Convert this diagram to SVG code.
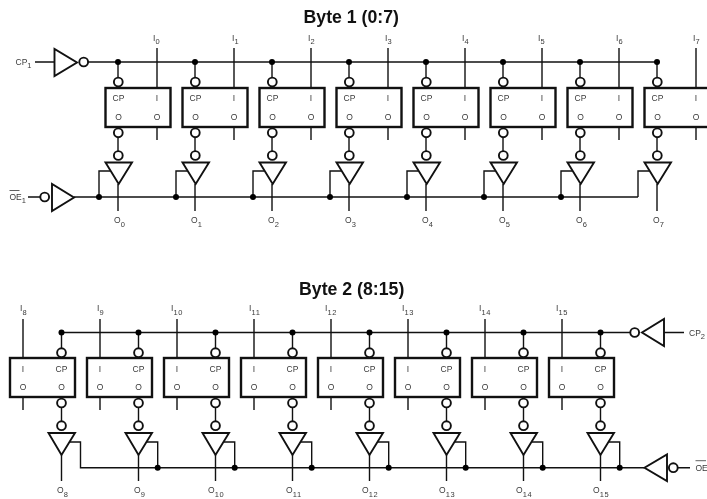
<svg xmlns="http://www.w3.org/2000/svg" width="707" height="499" viewBox="0 0 707 499">
<style>
text{filter:grayscale(1)}
.t{font-family:"Liberation Sans",Arial,sans-serif;font-size:8.5px;fill:#3a3a3a}
.m{text-anchor:middle}
.s{font-size:7.5px;letter-spacing:.8px}
.h{font-family:"Liberation Sans",Arial,sans-serif;font-size:17.7px;font-weight:bold;fill:#111;text-anchor:middle}
.w{fill:none;stroke:#111;stroke-width:1.4}
.b{fill:none;stroke:#111;stroke-width:1.7}
.d{fill:#000}
.box{fill:#fff;stroke:#111;stroke-width:2.4}
.tri{fill:#fff;stroke:#111;stroke-width:1.9;stroke-linejoin:miter}
.bub{fill:#fff;stroke:#111;stroke-width:1.9}
</style>
<defs>
<g id="topCell">
<rect class="box" x="105.5" y="88" width="65" height="39"/>
<circle class="bub" cx="118.3" cy="82" r="4.4"/>
<circle class="bub" cx="118.3" cy="132.8" r="4.4"/>
<circle class="bub" cx="118.3" cy="155.5" r="4.4"/>
<path class="tri" d="M105.5 162.5H132L118.7 184Z"/>
</g>
<g id="botCell">
<rect class="box" x="10" y="358" width="65" height="39"/>
<circle class="bub" cx="61.5" cy="352.7" r="4.4"/>
<circle class="bub" cx="61.5" cy="403" r="4.4"/>
<circle class="bub" cx="61.5" cy="425.7" r="4.4"/>
<path class="tri" d="M48.5 433H75L61.5 455Z"/>
</g>
</defs>
<g id="connectors">
<path class="b" d="M88 62H657"/>
<path class="w" d="M35 62H54M28 197H40"/>
<path class="b" d="M74 197H638"/>
<path class="w" d="M638 197V171H649"/>
<path class="w" d="M118 62V77.5M118 137.5V151M118 184V211M157 48V88M157 127V140M99 197V171H110"/>
<path class="w" d="M195 62V77.5M195 137.5V151M195 184V211M234 48V88M234 127V140M176 197V171H187"/>
<path class="w" d="M272 62V77.5M272 137.5V151M272 184V211M311 48V88M311 127V140M253 197V171H264"/>
<path class="w" d="M349 62V77.5M349 137.5V151M349 184V211M388 48V88M388 127V140M330 197V171H341"/>
<path class="w" d="M426 62V77.5M426 137.5V151M426 184V211M465 48V88M465 127V140M407 197V171H418"/>
<path class="w" d="M503 62V77.5M503 137.5V151M503 184V211M542 48V88M542 127V140M484 197V171H495"/>
<path class="w" d="M580 62V77.5M580 137.5V151M580 184V211M619 48V88M619 127V140M561 197V171H572"/>
<path class="w" d="M657 62V77.5M657 137.5V151M657 184V211M696 48V88M696 127V140"/>
<circle class="d" cx="118" cy="62" r="3"/><circle class="d" cx="195" cy="62" r="3"/><circle class="d" cx="272" cy="62" r="3"/><circle class="d" cx="349" cy="62" r="3"/><circle class="d" cx="426" cy="62" r="3"/><circle class="d" cx="503" cy="62" r="3"/><circle class="d" cx="580" cy="62" r="3"/><circle class="d" cx="657" cy="62" r="3"/>
<circle class="d" cx="99" cy="197" r="3"/><circle class="d" cx="176" cy="197" r="3"/><circle class="d" cx="253" cy="197" r="3"/><circle class="d" cx="330" cy="197" r="3"/><circle class="d" cx="407" cy="197" r="3"/><circle class="d" cx="484" cy="197" r="3"/><circle class="d" cx="561" cy="197" r="3"/>
<path class="b" d="M61.5 332.5H630"/>
<path class="w" d="M664 332.5H684M678 467.7H690"/>
<path class="w" d="M68 442H80.5V467.7H644"/>
<path class="w" d="M61.5 332.5V348M61.5 408V421M61.5 455V481M23 319V358M23 397V410"/>
<path class="w" d="M138.5 332.5V348M138.5 408V421M138.5 455V481M100 319V358M100 397V410M145 442H157.7V467.7"/>
<path class="w" d="M215.5 332.5V348M215.5 408V421M215.5 455V481M177 319V358M177 397V410M222 442H234.7V467.7"/>
<path class="w" d="M292.5 332.5V348M292.5 408V421M292.5 455V481M254 319V358M254 397V410M299 442H311.7V467.7"/>
<path class="w" d="M369.5 332.5V348M369.5 408V421M369.5 455V481M331 319V358M331 397V410M376 442H388.7V467.7"/>
<path class="w" d="M446.5 332.5V348M446.5 408V421M446.5 455V481M408 319V358M408 397V410M453 442H465.7V467.7"/>
<path class="w" d="M523.5 332.5V348M523.5 408V421M523.5 455V481M485 319V358M485 397V410M530 442H542.7V467.7"/>
<path class="w" d="M600.5 332.5V348M600.5 408V421M600.5 455V481M562 319V358M562 397V410M607 442H619.7V467.7"/>
<circle class="d" cx="61.5" cy="332.5" r="3"/><circle class="d" cx="138.5" cy="332.5" r="3"/><circle class="d" cx="215.5" cy="332.5" r="3"/><circle class="d" cx="292.5" cy="332.5" r="3"/><circle class="d" cx="369.5" cy="332.5" r="3"/><circle class="d" cx="446.5" cy="332.5" r="3"/><circle class="d" cx="523.5" cy="332.5" r="3"/><circle class="d" cx="600.5" cy="332.5" r="3"/>
<circle class="d" cx="157.7" cy="467.7" r="3"/><circle class="d" cx="234.7" cy="467.7" r="3"/><circle class="d" cx="311.7" cy="467.7" r="3"/><circle class="d" cx="388.7" cy="467.7" r="3"/><circle class="d" cx="465.7" cy="467.7" r="3"/><circle class="d" cx="542.7" cy="467.7" r="3"/><circle class="d" cx="619.7" cy="467.7" r="3"/>
</g>
<g id="title1"><text class="h" x="351.2" y="23.3">Byte 1 (0:7)</text></g>
<g id="title2"><text class="h" x="351.7" y="295">Byte 2 (8:15)</text></g>
<g id="cp1-driver">
<path class="tri" d="M54.5 49V76L77 62.5Z"/>
<circle class="bub" cx="83.7" cy="62" r="4.4"/>
<text class="t" x="15.5" y="65">CP<tspan class="s" dy="3">1</tspan></text>
</g>
<g id="oe1-driver">
<circle class="bub" cx="44.7" cy="197" r="4.4"/>
<path class="tri" d="M52 184V211L74 197.5Z"/>
<line x1="9.5" y1="190.5" x2="19.5" y2="190.5" stroke="#3a3a3a" stroke-width="0.8"/>
<text class="t" x="9.5" y="200">OE<tspan class="s" dy="3">1</tspan></text>
</g>
<g id="cp2-driver">
<circle class="bub" cx="634.7" cy="332.5" r="4.4"/>
<path class="tri" d="M664 319V346L642 332.5Z"/>
<text class="t" x="689" y="336">CP<tspan class="s" dy="3">2</tspan></text>
</g>
<g id="oe2-driver">
<path class="tri" d="M667 454.5V481L644.5 467.7Z"/>
<circle class="bub" cx="673.3" cy="467.7" r="4.4"/>
<line x1="695.5" y1="460.7" x2="706" y2="460.7" stroke="#3a3a3a" stroke-width="0.8"/>
<text class="t" x="695.5" y="470.5">OE</text>
</g>
<g id="bit0"><use href="#topCell"/><text class="t m" x="118.5" y="101">CP</text><text class="t m" x="157" y="101">I</text><text class="t m" x="118.5" y="120">O</text><text class="t m" x="157" y="120">O</text><text class="t" x="153" y="41">I<tspan class="s" dy="3">0</tspan></text><text class="t" x="114" y="223">O<tspan class="s" dy="3.5">0</tspan></text></g>
<g id="bit1"><use href="#topCell" x="77"/><text class="t m" x="195.5" y="101">CP</text><text class="t m" x="234" y="101">I</text><text class="t m" x="195.5" y="120">O</text><text class="t m" x="234" y="120">O</text><text class="t" x="232" y="41">I<tspan class="s" dy="3">1</tspan></text><text class="t" x="191" y="223">O<tspan class="s" dy="3.5">1</tspan></text></g>
<g id="bit2"><use href="#topCell" x="154"/><text class="t m" x="272.5" y="101">CP</text><text class="t m" x="311" y="101">I</text><text class="t m" x="272.5" y="120">O</text><text class="t m" x="311" y="120">O</text><text class="t" x="308" y="41">I<tspan class="s" dy="3">2</tspan></text><text class="t" x="268" y="223">O<tspan class="s" dy="3.5">2</tspan></text></g>
<g id="bit3"><use href="#topCell" x="231"/><text class="t m" x="349.5" y="101">CP</text><text class="t m" x="388" y="101">I</text><text class="t m" x="349.5" y="120">O</text><text class="t m" x="388" y="120">O</text><text class="t" x="385" y="41">I<tspan class="s" dy="3">3</tspan></text><text class="t" x="345" y="223">O<tspan class="s" dy="3.5">3</tspan></text></g>
<g id="bit4"><use href="#topCell" x="308"/><text class="t m" x="426.5" y="101">CP</text><text class="t m" x="465" y="101">I</text><text class="t m" x="426.5" y="120">O</text><text class="t m" x="465" y="120">O</text><text class="t" x="462" y="41">I<tspan class="s" dy="3">4</tspan></text><text class="t" x="422" y="223">O<tspan class="s" dy="3.5">4</tspan></text></g>
<g id="bit5"><use href="#topCell" x="385"/><text class="t m" x="503.5" y="101">CP</text><text class="t m" x="542" y="101">I</text><text class="t m" x="503.5" y="120">O</text><text class="t m" x="542" y="120">O</text><text class="t" x="538" y="41">I<tspan class="s" dy="3">5</tspan></text><text class="t" x="499" y="223">O<tspan class="s" dy="3.5">5</tspan></text></g>
<g id="bit6"><use href="#topCell" x="462"/><text class="t m" x="580.5" y="101">CP</text><text class="t m" x="619" y="101">I</text><text class="t m" x="580.5" y="120">O</text><text class="t m" x="619" y="120">O</text><text class="t" x="616" y="41">I<tspan class="s" dy="3">6</tspan></text><text class="t" x="576" y="223">O<tspan class="s" dy="3.5">6</tspan></text></g>
<g id="bit7"><use href="#topCell" x="539"/><text class="t m" x="657.5" y="101">CP</text><text class="t m" x="696" y="101">I</text><text class="t m" x="657.5" y="120">O</text><text class="t m" x="696" y="120">O</text><text class="t" x="693" y="41">I<tspan class="s" dy="3">7</tspan></text><text class="t" x="653" y="223">O<tspan class="s" dy="3.5">7</tspan></text></g>
<g id="bit8"><use href="#botCell"/><text class="t m" x="23" y="371.5">I</text><text class="t m" x="61.5" y="371.5">CP</text><text class="t m" x="23" y="390.3">O</text><text class="t m" x="61.5" y="390.3">O</text><text class="t" x="20" y="311">I<tspan class="s" dy="3.5">8</tspan></text><text class="t" x="57" y="493">O<tspan class="s" dy="3.5">8</tspan></text></g>
<g id="bit9"><use href="#botCell" x="77"/><text class="t m" x="100" y="371.5">I</text><text class="t m" x="138.5" y="371.5">CP</text><text class="t m" x="100" y="390.3">O</text><text class="t m" x="138.5" y="390.3">O</text><text class="t" x="97" y="311">I<tspan class="s" dy="3.5">9</tspan></text><text class="t" x="134" y="493">O<tspan class="s" dy="3.5">9</tspan></text></g>
<g id="bit10"><use href="#botCell" x="154"/><text class="t m" x="177" y="371.5">I</text><text class="t m" x="215.5" y="371.5">CP</text><text class="t m" x="177" y="390.3">O</text><text class="t m" x="215.5" y="390.3">O</text><text class="t" x="171" y="311">I<tspan class="s" dy="3.5">10</tspan></text><text class="t" x="208" y="493">O<tspan class="s" dy="3.5">10</tspan></text></g>
<g id="bit11"><use href="#botCell" x="231"/><text class="t m" x="254" y="371.5">I</text><text class="t m" x="292.5" y="371.5">CP</text><text class="t m" x="254" y="390.3">O</text><text class="t m" x="292.5" y="390.3">O</text><text class="t" x="249" y="311">I<tspan class="s" dy="3.5">11</tspan></text><text class="t" x="286" y="493">O<tspan class="s" dy="3.5">11</tspan></text></g>
<g id="bit12"><use href="#botCell" x="308"/><text class="t m" x="331" y="371.5">I</text><text class="t m" x="369.5" y="371.5">CP</text><text class="t m" x="331" y="390.3">O</text><text class="t m" x="369.5" y="390.3">O</text><text class="t" x="325" y="311">I<tspan class="s" dy="3.5">12</tspan></text><text class="t" x="362" y="493">O<tspan class="s" dy="3.5">12</tspan></text></g>
<g id="bit13"><use href="#botCell" x="385"/><text class="t m" x="408" y="371.5">I</text><text class="t m" x="446.5" y="371.5">CP</text><text class="t m" x="408" y="390.3">O</text><text class="t m" x="446.5" y="390.3">O</text><text class="t" x="402" y="311">I<tspan class="s" dy="3.5">13</tspan></text><text class="t" x="439" y="493">O<tspan class="s" dy="3.5">13</tspan></text></g>
<g id="bit14"><use href="#botCell" x="462"/><text class="t m" x="485" y="371.5">I</text><text class="t m" x="523.5" y="371.5">CP</text><text class="t m" x="485" y="390.3">O</text><text class="t m" x="523.5" y="390.3">O</text><text class="t" x="479" y="311">I<tspan class="s" dy="3.5">14</tspan></text><text class="t" x="516" y="493">O<tspan class="s" dy="3.5">14</tspan></text></g>
<g id="bit15"><use href="#botCell" x="539"/><text class="t m" x="562" y="371.5">I</text><text class="t m" x="600.5" y="371.5">CP</text><text class="t m" x="562" y="390.3">O</text><text class="t m" x="600.5" y="390.3">O</text><text class="t" x="556" y="311">I<tspan class="s" dy="3.5">15</tspan></text><text class="t" x="593" y="493">O<tspan class="s" dy="3.5">15</tspan></text></g>
</svg>
